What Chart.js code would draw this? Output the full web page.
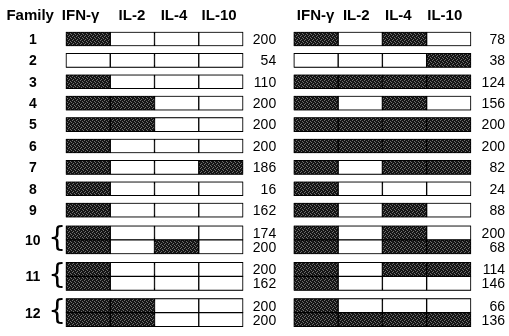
<!DOCTYPE html>
<html><head><meta charset="utf-8">
<script src="https://cdn.jsdelivr.net/npm/chart.js@4"></script>
<style>html,body{margin:0;padding:0;background:#fff;}canvas{display:block;}</style>
</head><body>
<canvas id="c" width="509" height="336"></canvas>
<script>
// ---- data ----
const cytokines = ['IFN-γ', 'IL-2', 'IL-4', 'IL-10'];
const rowFamily = [1, 2, 3, 4, 5, 6, 7, 8, 9, 10, 10, 11, 11, 12, 12];
const leftValues = [200, 54, 110, 200, 200, 200, 186, 16, 162, 174, 200, 200, 162, 200, 200];
const rightValues = [78, 38, 124, 156, 200, 200, 82, 24, 88, 200, 68, 114, 146, 66, 136];
const leftPattern = ['1000', '0000', '1000', '1100', '1100', '1000', '1001', '1000', '1000', '1000', '1010', '1000', '1000', '1100', '1100'];
const rightPattern = ['1010', '0001', '1111', '1010', '1111', '1111', '1011', '1000', '1010', '1010', '1011', '1011', '1000', '1000', '1111'];

// ---- layout helpers ----
const RIGHT_START = 5.15;
function familyCenter(f) { return f <= 9 ? f : 10.39 + (f - 10) * 1.7; }
const rowPos = rowFamily.map((f, i) => {
  const n = rowFamily.filter(x => x === f).length;
  if (n === 1) return familyCenter(f);
  const k = rowFamily.indexOf(f);
  return familyCenter(f) + (i === k ? -0.327 : 0.327);
});

// speckled dark fill
const pc = document.createElement('canvas'); pc.width = 4; pc.height = 4;
const pctx = pc.getContext('2d');
pctx.fillStyle = '#151515'; pctx.fillRect(0, 0, 4, 4);
pctx.fillStyle = '#6e6e6e';
[[0, 0], [2, 1], [1, 3], [3, 2]].forEach(p => pctx.fillRect(p[0], p[1], 1, 1));
const ctx = document.getElementById('c').getContext('2d');
const dark = ctx.createPattern(pc, 'repeat');

const datasets = [];
[[0, leftPattern], [RIGHT_START, rightPattern]].forEach(([off, pat]) => {
  for (let c = 0; c < 4; c++) {
    datasets.push({
      data: rowPos.map(y => ({ x: [off + c, off + c + 1], y })),
      backgroundColor: pat.map(p => p[c] === '1' ? dark : '#ffffff'),
      borderColor: '#000', borderWidth: 1, borderSkipped: false,
      grouped: false, barThickness: 14
    });
  }
  datasets.push({
    data: rowPos.map(y => ({ x: [off, off + 4], y })),
    backgroundColor: 'rgba(0,0,0,0)',
    borderColor: '#000', borderWidth: 2, borderSkipped: false,
    grouped: false, barThickness: 14
  });
});

const labelsPlugin = {
  id: 'labels',
  afterDraw(chart) {
    const { ctx, scales: { x, y } } = chart;
    ctx.save();
    ctx.fillStyle = '#000';
    ctx.textBaseline = 'middle';
    const hy = y.getPixelForValue(-0.075);
    ctx.font = 'bold 15px "Liberation Sans", Arial, sans-serif';
    ctx.textAlign = 'center';
    ctx.fillText('Family', x.getPixelForValue(-0.81), hy);
    const lh = [0.33, 1.49, 2.44, 3.46];
    const rh = [5.64, 6.56, 7.51, 8.56];
    cytokines.forEach((t, i) => {
      ctx.fillText(t, x.getPixelForValue(lh[i]), hy);
      ctx.fillText(t, x.getPixelForValue(rh[i]), hy);
    });
    // family numbers
    const fams = [...new Set(rowFamily)];
    fams.forEach(f => {
      const cy = y.getPixelForValue(familyCenter(f));
      ctx.font = 'bold 14px "Liberation Sans", Arial, sans-serif';
      ctx.textAlign = 'center';
      ctx.fillText(String(f), x.getPixelForValue(-0.75), cy + 1);
      if (rowFamily.filter(v => v === f).length > 1) {
        ctx.font = '28px "DejaVu Sans", sans-serif';
        ctx.fillText('{', x.getPixelForValue(-0.2), cy);
      }
    });
    // values
    ctx.font = '14px "Liberation Sans", Arial, sans-serif';
    ctx.textAlign = 'right';
    rowPos.forEach((p, i) => {
      const py = y.getPixelForValue(p) + 1;
      ctx.fillText(String(leftValues[i]), x.getPixelForValue(4.75), py);
      ctx.fillText(String(rightValues[i]), x.getPixelForValue(9.92), py);
    });
    ctx.restore();
  }
};

new Chart(ctx, {
  type: 'bar',
  data: { datasets },
  options: {
    indexAxis: 'y',
    responsive: false,
    animation: false,
    devicePixelRatio: 1,
    layout: { padding: 0 },
    plugins: { legend: { display: false }, tooltip: { enabled: false }, title: { display: false } },
    scales: {
      x: { type: 'linear', min: -1.4915, max: 10.011, display: false, offset: false },
      y: { type: 'linear', min: -0.822, max: 14.879, reverse: true, display: false, offset: false }
    }
  },
  plugins: [labelsPlugin]
});
</script>
</body></html>
